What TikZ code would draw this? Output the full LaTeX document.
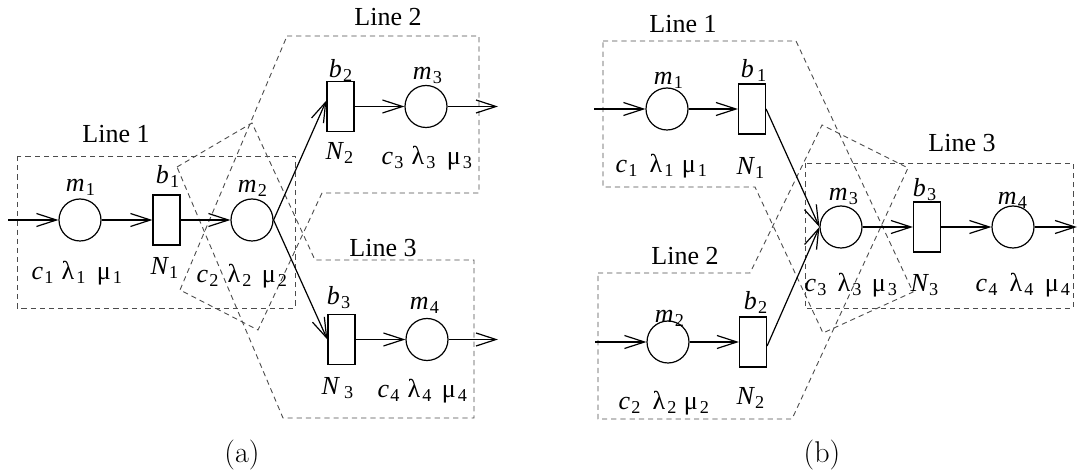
\documentclass[tikz,border=0pt]{standalone}
\usepackage{fontspec}
\newfontfamily\tms{Liberation Serif}
\usetikzlibrary{arrows.meta}
\newcommand{\vr}[2]{{\itshape #1}\textsubscript{\kern0.6pt#2}}
\newcommand{\gr}[2]{#1\textsubscript{\kern1pt#2}}
\begin{document}
\begin{tikzpicture}[x=0.5pt,y=-0.5pt,
  every node/.style={font=\tms\fontsize{13}{15}\selectfont, inner sep=0pt},
  lab/.style={anchor=base},
  circ/.style={draw, circle, minimum size=21pt, line width=0.6pt},
  buf/.style={draw, rectangle, minimum width=13.5pt, minimum height=25pt, line width=0.6pt},
  arr/.style={line width=0.6pt, -{Straight Barb[length=10pt,width=6.5pt]}},
  zone/.style={dash pattern=on 2.6pt off 2pt, line width=0.45pt, black!70},
  capt/.style={anchor=base, font=\fontsize{15}{18}\selectfont}
]
\useasboundingbox (0,0) rectangle (1078,470);

% ================= (a) =================
\draw[zone] (17,156) rectangle (295,308);
\draw[zone] (287,36) -- (479,36) -- (479,193) -- (322,193) -- (258,330) -- (180,290) -- cycle;
\draw[zone] (177,167) -- (252,123) -- (315,260) -- (474,260) -- (474,418) -- (283,418) -- cycle;

\node[circ] (a-m1) at (80,220) {};
\node[buf]  (a-b1) at (166.5,220) {};
\node[circ] (a-m2) at (252,220) {};
\node[buf]  (a-b2) at (340.5,106.5) {};
\node[circ] (a-m3) at (426,106.5) {};
\node[buf]  (a-b3) at (341.5,339.5) {};
\node[circ] (a-m4) at (427,339.5) {};
\coordinate (a-in) at (8,220);
\coordinate (a-out2) at (498,106.5);
\coordinate (a-out3) at (498,339.5);

\draw[arr] (a-in) -- (a-m1);
\draw[arr] (a-m1) -- (a-b1);
\draw[arr] (a-b1) -- (a-m2);
\draw[arr] (a-m2.east) -- ([yshift=3pt]a-b2.west);
\draw[arr] (a-m2.east) -- (a-b3.west);
\draw[arr] (a-b2) -- (a-m3);
\draw[arr] (a-m3) -- (a-out2);
\draw[arr] (a-b3) -- (a-m4);
\draw[arr] (a-m4) -- (a-out3);

\node[lab] (a-L1) at (116,143) {Line 1};
\node[lab] (a-L2) at (388,26) {Line 2};
\node[lab] (a-L3) at (383,257) {Line 3};

\node[lab] (a-tm1) at (81,192) {\vr{m}{1}};
\node[lab] (a-tb1) at (168,184) {\vr{b}{1}};
\node[lab] (a-tm2) at (253,193) {\vr{m}{2}};
\node[lab] (a-tN1) at (165,275) {\vr{N}{1}};
\node[lab] (a-c1) at (43,280) {\vr{c}{1}};
\node[lab] (a-l1) at (74,280) {\gr{λ}{1}};
\node[lab] (a-u1) at (110,280) {\gr{μ}{1}};
\node[lab] (a-c2) at (208,283) {\vr{c}{2}};
\node[lab] (a-l2) at (240,283) {\gr{λ}{2}};
\node[lab] (a-u2) at (275,283) {\gr{μ}{2}};

\node[lab] (a-tb2) at (341,78) {\vr{b}{2}};
\node[lab] (a-tN2) at (340,160) {\vr{N}{2}};
\node[lab] (a-tm3) at (428,80) {\vr{m}{3}};
\node[lab] (a-c3) at (393,165) {\vr{c}{3}};
\node[lab] (a-l3) at (424,165) {\gr{λ}{3}};
\node[lab] (a-u3) at (460,165) {\gr{μ}{3}};

\node[lab] (a-tb3) at (339,305) {\vr{b}{3}};
\node[lab] (a-tm4) at (425,310) {\vr{m}{4}};
\node[lab] (a-tN3) at (338,395) {\vr{N}{\kern2pt 3}};
\node[lab] (a-c4) at (389,398) {\vr{c}{4}};
\node[lab] (a-l4) at (420,398) {\gr{λ}{4}};
\node[lab] (a-u4) at (455,398) {\gr{μ}{4}};

\node[capt] (a-cap) at (242,463) {(a)};

% ================= (b) =================
\draw[zone] (603,41) -- (796,41) -- (913,292) -- (823,333) -- (755,187) -- (603,187) -- cycle;
\draw[zone] (598,273) -- (750,273) -- (822,125) -- (908,168) -- (792,419) -- (598,419) -- cycle;
\draw[zone] (805,163) rectangle (1073,308);

\node[circ] (b-m1) at (667,109) {};
\node[buf]  (b-b1) at (752,109) {};
\node[circ] (b-m2) at (668,342) {};
\node[buf]  (b-b2) at (753,342) {};
\node[circ] (b-m3) at (841,227) {};
\node[buf]  (b-b3) at (927,227) {};
\node[circ] (b-m4) at (1013,227) {};
\coordinate (b-in1) at (594,109);
\coordinate (b-in2) at (595,342);
\coordinate (b-out) at (1077,227);

\draw[arr] (b-in1) -- (b-m1);
\draw[arr] (b-m1) -- (b-b1);
\draw[arr] (b-in2) -- (b-m2);
\draw[arr] (b-m2) -- (b-b2);
\draw[arr] (b-b1.east) -- (b-m3.west);
\draw[arr] ([yshift=-2pt]b-b2.east) -- (b-m3.west);
\draw[arr] (b-m3) -- (b-b3);
\draw[arr] (b-b3) -- (b-m4);
\draw[arr] (b-m4) -- (b-out);

\node[lab] (b-L1) at (683,33) {Line 1};
\node[lab] (b-L2) at (685,265) {Line 2};
\node[lab] (b-L3) at (962,152) {Line 3};

\node[lab] (b-tm1) at (669,85) {\vr{m}{1}};
\node[lab] (b-tb1) at (754,78) {\vr{b}{\kern1pt 1}};
\node[lab] (b-tN1) at (751,175) {\vr{N}{1}};
\node[lab] (b-c1) at (627,173) {\vr{c}{1}};
\node[lab] (b-l1) at (662,173) {\gr{λ}{1}};
\node[lab] (b-u1) at (695,173) {\gr{μ}{1}};

\node[lab] (b-tm2) at (670,323) {\vr{m}{2}};
\node[lab] (b-tb2) at (756,310) {\vr{b}{2}};
\node[lab] (b-tN2) at (751,405) {\vr{N}{2}};
\node[lab] (b-c2) at (630,410) {\vr{c}{2}};
\node[lab] (b-l2) at (665,410) {\gr{λ}{2}};
\node[lab] (b-u2) at (697,410) {\gr{μ}{2}};

\node[lab] (b-tm3) at (844,201) {\vr{m}{3}};
\node[lab] (b-tb3) at (925,197) {\vr{b}{3}};
\node[lab] (b-tm4) at (1013,205) {\vr{m}{4}};
\node[lab] (b-tN3) at (925,292) {\vr{N}{3}};
\node[lab] (b-c3) at (816,292) {\vr{c}{3}};
\node[lab] (b-l3) at (850,292) {\gr{λ}{3}};
\node[lab] (b-u3) at (885,292) {\gr{μ}{3}};
\node[lab] (b-c4) at (987,292) {\vr{c}{4}};
\node[lab] (b-l4) at (1022,292) {\gr{λ}{4}};
\node[lab] (b-u4) at (1058,292) {\gr{μ}{4}};

\node[capt] (b-cap) at (822,463) {(b)};
\end{tikzpicture}
\end{document}
